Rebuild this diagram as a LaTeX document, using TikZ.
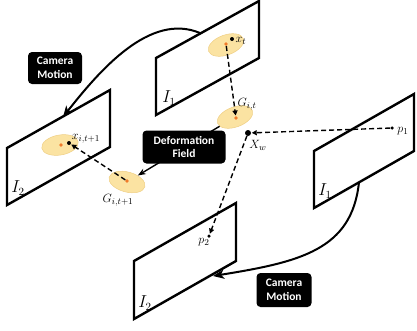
\documentclass[tikz,border=0pt]{standalone}
\usepackage{fontspec}
\newfontfamily\calibri{Carlito}
\usetikzlibrary{shapes.geometric,arrows.meta}
\definecolor{ellfill}{HTML}{FBE3A2}
\definecolor{elldraw}{HTML}{EFCF85}
\definecolor{dotor}{HTML}{F07A2A}
\begin{document}
\begin{tikzpicture}[x=1pt,y=-1pt,
  plane/.style={line width=2.4pt, line join=miter},
  gauss/.style={ellipse, fill=ellfill, draw=elldraw, line width=0.5pt, minimum width=37pt, minimum height=20pt, inner sep=0pt},
  odot/.style={circle, fill=dotor, inner sep=0pt, minimum size=3.6pt},
  bdot/.style={circle, fill=black, inner sep=0pt, minimum size=4pt},
  blackbox/.style={fill=black, text=white, rounded corners=4pt, font=\calibri\bfseries\fontsize{11.5}{13.5}\selectfont, align=center, inner sep=0pt},
  dasharrow/.style={dash pattern=on 5pt off 3pt, line width=1.4pt, -{Triangle[length=5pt,width=5pt]}, shorten >=0.5pt},
  motion/.style={line width=2pt, -{Stealth[length=11pt,width=9pt,inset=3pt]}},
  deform/.style={line width=1.4pt, -{Stealth[length=8pt,width=6pt]}},
  ptlab/.style={font=\fontsize{12.5}{14}\selectfont, inner sep=0pt},
  imlab/.style={font=\fontsize{16}{18}\selectfont, inner sep=0pt}]
\useasboundingbox (0,0) rectangle (417,330);

% image planes
\draw[plane] (156,115) -- (156,58) -- (259,1) -- (259,58) -- cycle;
\draw[plane] (7,205) -- (7,148) -- (110,90) -- (110,147) -- cycle;
\draw[plane] (314,208) -- (314,151) -- (414,94) -- (414,151) -- cycle;
\draw[plane] (134,319) -- (134,261) -- (236,203) -- (236,261) -- cycle;

\node[imlab] (I1a) at (169,98) {$I_1$};
\node[imlab] (I2a) at (18,188) {$I_2$};
\node[imlab] (I1b) at (325,191) {$I_1$};
\node[imlab] (I2b) at (145,303) {$I_2$};

% gaussians
\node[gauss, rotate=20] (Ext) at (226,45) {};
\node[gauss, rotate=20] (EGit) at (235,117) {};
\node[gauss, rotate=10] (Ext1) at (60,145) {};
\node[gauss, rotate=-15] (EGit1) at (127,182) {};

\node[odot] (oxt) at (226,44) {};
\node[bdot] (xt) at (232,39) {};
\node[odot] (oGit) at (236,118) {};
\node[odot] (oxt1) at (61,145) {};
\node[bdot] (xt1) at (69,143) {};
\node[odot] (oGit1) at (127,181) {};

\node[circle, fill=black, inner sep=0pt, minimum size=6pt] (Xw) at (248,133) {};
\node[bdot, minimum size=3.5pt] (p1) at (392,128) {};
\node[bdot, minimum size=3.5pt] (p2) at (209,236) {};

\node[ptlab] at (241,41) {$x_t$};
\node[ptlab] at (247,104) {$G_{i,t}$};
\node[ptlab] at (86,139) {$x_{i,t+1}$};
\node[ptlab] at (118,200) {$G_{i,t+1}$};
\node[ptlab] at (258,145) {$X_w$};
\node[ptlab] at (403,131) {$p_1$};
\node[ptlab] at (204,242) {$p_2$};

% dashed correspondences
\draw[dasharrow] (oxt) -- (oGit);
\draw[dasharrow] (oGit1) -- (xt1);
\draw[dasharrow] (p1) -- (Xw);
\draw[dasharrow] (Xw) -- (p2);

% deformation field
\draw[deform] (EGit) -- (EGit1);
\node[blackbox, minimum width=83pt, minimum height=33pt] (df) at (184,147) {Deformation\\Field};

% camera motion
\coordinate (cs1) at (200,33);
\coordinate (ce1) at (63,117);
\draw[motion] (cs1) .. controls +(-50,-21) and +(37,-47) .. (ce1);
\node[blackbox, minimum width=54pt, minimum height=32pt] (cm1) at (55,68) {Camera\\Motion};

\coordinate (cs2) at (359,182);
\coordinate (ce2) at (213,276);
\draw[motion] (cs2) .. controls +(-7,68) and +(87,-14) .. (ce2);
\node[blackbox, minimum width=55pt, minimum height=34pt] (cm2) at (284,290) {Camera\\Motion};
\end{tikzpicture}
\end{document}
